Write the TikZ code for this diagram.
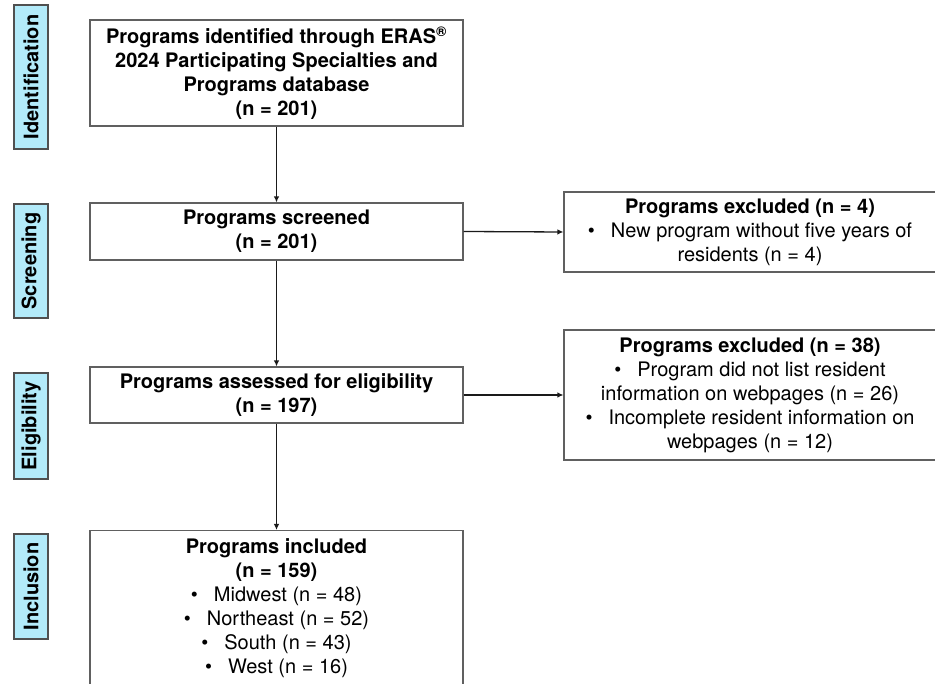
\documentclass[tikz,border=0pt]{standalone}
\usepackage{fontspec}
\setmainfont{TeX Gyre Heros}
\usetikzlibrary{arrows.meta}
\definecolor{stagefill}{HTML}{B3EBFA}
\definecolor{stageline}{HTML}{505050}
\definecolor{boxline}{HTML}{606060}
\definecolor{arrowcol}{HTML}{1A1A1A}
\tikzset{
  stagebox/.style={draw=stageline, line width=1.1pt, fill=stagefill, rotate=90,
    font=\fontsize{20}{24}\selectfont\bfseries, inner sep=0pt, minimum height=34pt},
  flowbox/.style={draw=boxline, line width=1.1pt, fill=white, align=center,
    font=\fontsize{20}{24}\selectfont, inner sep=0pt, minimum width=373pt},
  flowarrow/.style={draw=arrowcol, line width=1.3pt, -{Latex[length=6pt,width=5.5pt]}}
}
\newcommand{\bul}{\textbullet\hspace{16pt}}
\begin{document}
\begin{tikzpicture}[x=1pt,y=-1pt]
\useasboundingbox (0,0) rectangle (935,684);
% stage labels
\node[stagebox, minimum width=144pt] (sid) at (31,77) {Identification};
\node[stagebox, minimum width=114pt] (ssc) at (31,261) {Screening};
\node[stagebox, minimum width=106pt] (sel) at (31,426) {Eligibility};
\node[stagebox, minimum width=105pt] (sin) at (31,586.5) {Inclusion};
% main flow
\node[flowbox, minimum height=106pt] (ident) at (276.5,73)
  {\bfseries Programs identified through ERAS\textsuperscript{®}\\
   \bfseries 2024 Participating Specialties and\\
   \bfseries Programs database\\
   \bfseries (n = 201)};
\node[flowbox, minimum height=57pt] (screen) at (276.5,231.5)
  {\bfseries Programs screened\\ \bfseries (n = 201)};
\node[flowbox, minimum height=56pt] (elig) at (276.5,395)
  {\bfseries Programs assessed for eligibility\\ \bfseries (n = 197)};
\node[flowbox, minimum height=156pt, anchor=north] (incl) at (276.5,530)
  {\bfseries Programs included\\
   \bfseries (n = 159)\\
   \bul Midwest (n = 48)\\
   \bul Northeast (n = 52)\\
   \bul South (n = 43)\\
   \bul West (n = 16)};
% exclusions
\node[flowbox, minimum width=372pt, minimum height=80pt] (ex1) at (750,232)
  {\bfseries Programs excluded (n = 4)\\
   \bul New program without five years of\\
   residents (n = 4)};
\node[flowbox, minimum width=372pt, minimum height=130pt] (ex2) at (750,395)
  {\bfseries Programs excluded (n = 38)\\
   \bul Program did not list resident\\
   information on webpages (n = 26)\\
   \bul Incomplete resident information on\\
   webpages (n = 12)};
% connectors
\draw[flowarrow] (ident) -- (screen);
\draw[flowarrow] (screen) -- (elig);
\draw[flowarrow] (elig) -- (incl);
\draw[flowarrow] (screen.east) -- (ex1.west);
\draw[flowarrow] (elig.east) -- (ex2.west);
\end{tikzpicture}
\end{document}
